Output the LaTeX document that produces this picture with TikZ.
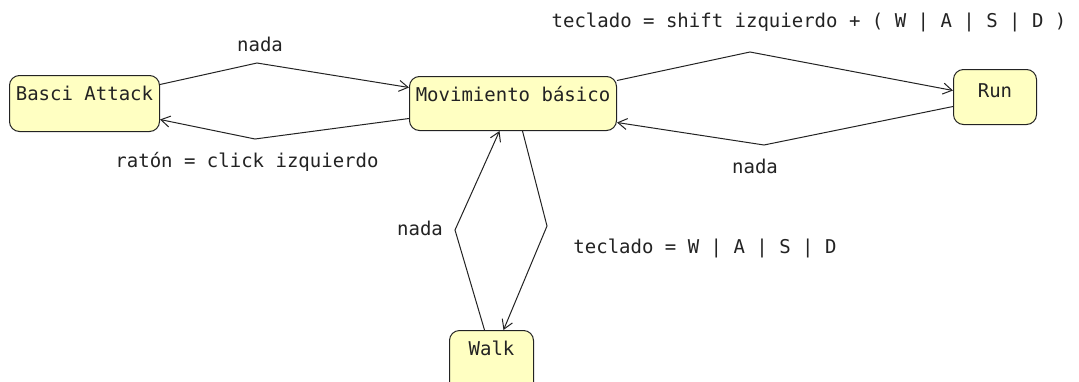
\documentclass[tikz,border=0pt]{standalone}
\usepackage{fontspec}
\newfontfamily\diagfont{DejaVu Sans Mono}
\usetikzlibrary{arrows.meta}

\definecolor{estadofill}{RGB}{255,255,194}
\definecolor{linea}{RGB}{35,35,35}

\begin{document}
\begin{tikzpicture}[x = 1pt, y = -1pt,
                    font = \diagfont\fontsize{19}{22}\selectfont,
                    estado/.style = {draw=linea, fill=estadofill, line width=1pt,
                                     rounded corners=10pt, inner sep=0pt, text=linea},
                    trans/.style = {draw=linea, line width=1pt,
                                    -{Straight Barb[length=9pt, width=11pt]}},
                    etiqueta/.style = {text=linea, inner sep=0pt, anchor=base}]

    \path[use as bounding box, fill=white] (0,0) rectangle (1079,381);

    % estados
    \node[estado, anchor=north west, minimum width=150pt, text height=25pt, text depth=31pt] (attack) at (9,75) {Basci Attack};
    \node[estado, anchor=north west, minimum width=207pt, text height=25pt, text depth=29pt] (mov) at (409,76) {Movimiento básico};
    \node[estado, anchor=north west, minimum width=83pt, text height=28pt, text depth=27pt] (run) at (953,69) {Run};
    \node[estado, anchor=north west, minimum width=84pt, text height=25pt, text depth=40pt] (walk) at (449,330) {Walk};

    % puntos de quiebre
    \coordinate (b1) at (257,63);
    \coordinate (b2) at (255,139);
    \coordinate (b3) at (750,52);
    \coordinate (b4) at (764,145);
    \coordinate (b5) at (455,230);
    \coordinate (b6) at (547,226);

    % transiciones
    \draw[trans] ([yshift=19pt]attack.east) -- (b1) -- ([yshift=16pt]mov.west);
    \draw[trans] ([yshift=-15pt]mov.west) -- (b2) -- ([yshift=-16pt]attack.east);
    \draw[trans] ([yshift=23pt]mov.east) -- (b3) -- ([yshift=6.5pt]run.west);
    \draw[trans] ([yshift=-9.5pt]run.west) -- (b4) -- ([yshift=-19pt]mov.east);
    \draw[trans] ([xshift=-7pt]walk.north) -- (b5) -- ([xshift=-13.5pt]mov.south);
    \draw[trans] ([xshift=9.5pt]mov.south) -- (b6) -- ([xshift=12pt]walk.north);

    % etiquetas
    \node[etiqueta] (l1) at (260,51) {nada};
    \node[etiqueta] (l2) at (247,167) {ratón = click izquierdo};
    \node[etiqueta] (l3) at (809,27) {teclado = shift izquierdo + ( W | A | S | D )};
    \node[etiqueta] (l4) at (755,173) {nada};
    \node[etiqueta] (l5) at (420,235) {nada};
    \node[etiqueta] (l6) at (705,253) {teclado = W | A | S | D};
\end{tikzpicture}
\end{document}
